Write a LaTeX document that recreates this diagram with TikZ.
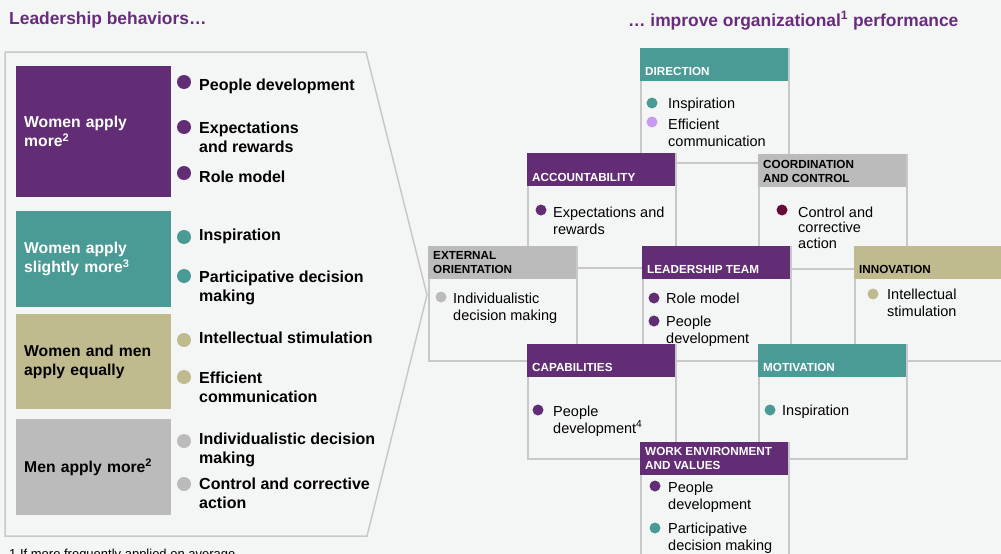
\documentclass[tikz,border=0pt]{standalone}
\usepackage{fontspec}
\setmainfont{Liberation Sans}
\usepackage{tikz}

\definecolor{bg}{RGB}{244,246,245}
\definecolor{plum}{RGB}{98,45,116}
\definecolor{sea}{RGB}{74,155,150}
\definecolor{khaki}{RGB}{192,187,142}
\definecolor{stone}{RGB}{187,187,187}
\definecolor{lilac}{RGB}{200,155,240}
\definecolor{wine}{RGB}{105,10,55}
\definecolor{rule}{RGB}{200,200,200}
\definecolor{titlec}{RGB}{104,44,124}

\begin{document}
\begin{tikzpicture}[x=1pt, y=-1pt, every node/.style={inner sep=0pt},
	group/.style={anchor=north west, minimum width=155pt, text width=139pt, inner xsep=8pt, align=left, font=\fontsize{15.7}{19}\selectfont\bfseries},
	item/.style={anchor=base west, align=left, font=\fontsize{16}{19}\selectfont\bfseries},
	dot/.style={circle, minimum size=14pt},
	card/.style={anchor=north west, draw=rule, line width=1.5pt, fill=bg, minimum width=148pt, minimum height=114pt},
	cardhead/.style={anchor=north west, minimum width=148pt, minimum height=33pt},
	headtext/.style={anchor=south west, align=left, font=\fontsize{11.7}{14}\selectfont\bfseries},
	entry/.style={anchor=base west, align=left, font=\fontsize{14.5}{17}\selectfont},
	pip/.style={circle, minimum size=11pt}]
			\useasboundingbox (0,0) rectangle (1001,554);
			\fill[bg] (0,0) rectangle (1001,554);
			
			% titles (base of a node with several lines is its last line)
			\node[anchor=base west, text=titlec, font=\fontsize{17.4}{20}\selectfont\bfseries] (lefttitle) at (9,24) {Leadership behaviors…};
			\node[anchor=base west, text=titlec, font=\fontsize{17.4}{20}\selectfont\bfseries] (righttitle) at (628,26) {… improve organizational\textsuperscript{1} performance};
			
			% left panel
			\draw[rule, line width=1.5pt] (5,52) -- (366,52) -- (427,295) -- (367,536) -- (5,536) -- cycle;
			
			\node[group, fill=plum, text=white, minimum height=131pt] (more) at (16,66) {Women apply\\more\textsuperscript{2}};
			\node[group, fill=sea, text=white, minimum height=96pt] (slightly) at (16,211) {Women apply\\slightly more\textsuperscript{3}};
			\node[group, fill=khaki, minimum height=95pt] (equally) at (16,314) {Women and men\\apply equally};
			\node[group, fill=stone, minimum height=96pt] (menmore) at (16,419) {Men apply more\textsuperscript{2}};
			
			\node[dot, fill=plum] (d1) at (184,82) {};
			\node[item] (i1) at (199,90) {People development};
			\node[dot, fill=plum] (d2) at (184,127) {};
			\node[item] (i2) at (199,152) {Expectations\\and rewards};
			\node[dot, fill=plum] (d3) at (184,173) {};
			\node[item] (i3) at (199,182) {Role model};
			\node[dot, fill=sea] (d4) at (184,237) {};
			\node[item] (i4) at (199,240) {Inspiration};
			\node[dot, fill=sea] (d5) at (184,276) {};
			\node[item] (i5) at (199,301) {Participative decision\\making};
			\node[dot, fill=khaki] (d6) at (184,340) {};
			\node[item] (i6) at (199,343) {Intellectual stimulation};
			\node[dot, fill=khaki] (d7) at (184,377) {};
			\node[item] (i7) at (199,402) {Efficient\\communication};
			\node[dot, fill=stone] (d8) at (184,441) {};
			\node[item] (i8) at (199,463) {Individualistic decision\\making};
			\node[dot, fill=stone] (d9) at (184,484) {};
			\node[item] (i9) at (199,508) {Control and corrective\\action};
			
			% right panel
			\node[card] (dir) at (640,48) {};
			\node[cardhead, fill=sea] (dirh) at (640,48) {};
			\node[headtext, text=white] (dirt) at (645,76) {DIRECTION};
			\node[pip, fill=sea] (dirp1) at (652,103) {};
			\node[entry] (dire1) at (668,108) {Inspiration};
			\node[pip, fill=lilac] (dirp2) at (652,122) {};
			\node[entry] (dire2) at (668,146) {Efficient\\communication};
			
			\node[card] (acc) at (527,153) {};
			\node[cardhead, fill=plum] (acch) at (527,153) {};
			\node[headtext, text=white] (acct) at (532,182) {ACCOUNTABILITY};
			\node[pip, fill=plum] (accp1) at (541,210) {};
			\node[entry] (acce1) at (553,234) {Expectations and\\rewards};
			
			\node[card] (coord) at (758,154) {};
			\node[cardhead, fill=stone] (coordh) at (758,154) {};
			\node[headtext] (coordt) at (763,183) {COORDINATION\\AND CONTROL};
			\node[pip, fill=wine] (coordp1) at (782,210) {};
			\node[entry, font=\fontsize{14.5}{15.5}\selectfont] (coorde1) at (798,248) {Control and\\corrective\\action};
			
			\node[card] (ext) at (428,246) {};
			\node[cardhead, fill=stone] (exth) at (428,246) {};
			\node[headtext] (extt) at (433,274) {EXTERNAL\\ORIENTATION};
			\node[pip, fill=stone] (extp1) at (441,297) {};
			\node[entry] (exte1) at (453,320) {Individualistic\\decision making};
			
			\node[card] (team) at (642,246) {};
			\node[cardhead, fill=plum] (teamh) at (642,246) {};
			\node[headtext, text=white] (teamt) at (647,274) {LEADERSHIP TEAM};
			\node[pip, fill=plum] (teamp1) at (654,298) {};
			\node[entry] (teame1) at (666,303) {Role model};
			\node[pip, fill=plum] (teamp2) at (654,321) {};
			\node[entry] (teame2) at (666,343) {People\\development};
			
			\node[card] (innov) at (854,246) {};
			\node[cardhead, fill=khaki] (innovh) at (854,246) {};
			\node[headtext] (innovt) at (859,274) {INNOVATION};
			\node[pip, fill=khaki] (innovp1) at (873,294) {};
			\node[entry] (innove1) at (887,316) {Intellectual\\stimulation};
			
			\node[card] (cap) at (527,344) {};
			\node[cardhead, fill=plum] (caph) at (527,344) {};
			\node[headtext, text=white] (capt) at (532,372) {CAPABILITIES};
			\node[pip, fill=plum] (capp1) at (538,410) {};
			\node[entry] (cape1) at (553,433) {People\\development\textsuperscript{4}};
			
			\node[card] (mot) at (758,344) {};
			\node[cardhead, fill=sea] (moth) at (758,344) {};
			\node[headtext, text=white] (mott) at (763,372) {MOTIVATION};
			\node[pip, fill=sea] (motp1) at (770,410) {};
			\node[entry] (mote1) at (782,415) {Inspiration};
			
			\node[card] (work) at (640,442) {};
			\node[cardhead, fill=plum] (workh) at (640,442) {};
			\node[headtext, text=white] (workt) at (645,470) {WORK ENVIRONMENT\\AND VALUES};
			\node[pip, fill=plum] (workp1) at (655,486) {};
			\node[entry] (worke1) at (668,509) {People\\development};
			\node[pip, fill=sea] (workp2) at (655,528) {};
			\node[entry] (worke2) at (668,550) {Participative\\decision making};
			
			% footnote
			\node[anchor=base west, font=\fontsize{13}{15}\selectfont] (note) at (9,558) {1 If more frequently applied on average};
			\end{tikzpicture}
\end{document}
